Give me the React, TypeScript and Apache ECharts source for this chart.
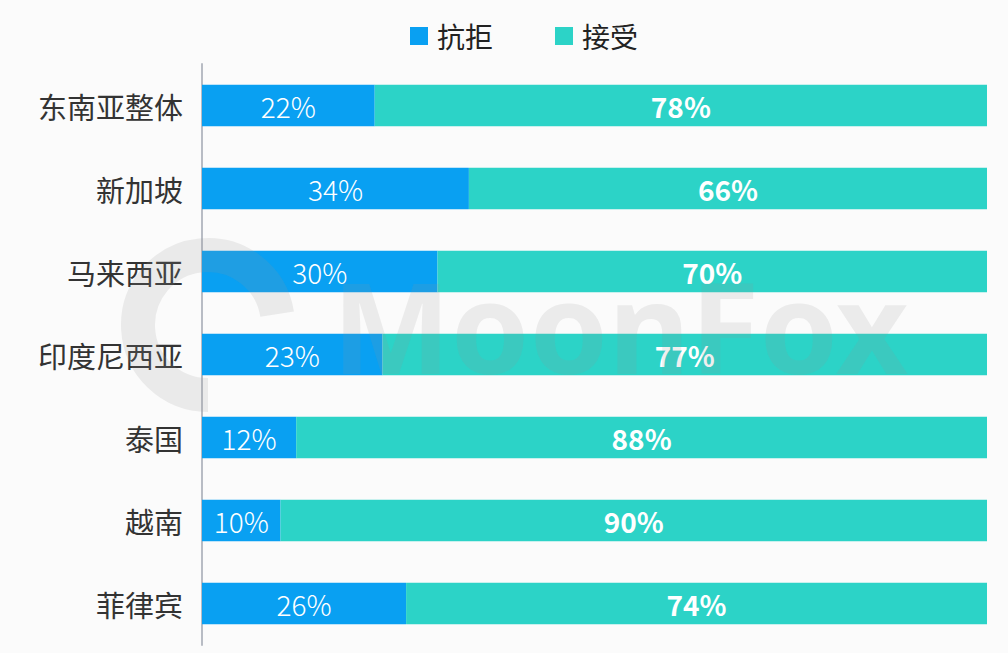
import React, { useEffect, useRef } from "react";
import * as echarts from "echarts";

const categories = ["东南亚整体", "新加坡", "马来西亚", "印度尼西亚", "泰国", "越南", "菲律宾"];
const rejectValues = [22, 34, 30, 23, 12, 10, 26];
const acceptValues = [78, 66, 70, 77, 88, 90, 74];
const seriesNames = ["抗拒", "接受"];

const FONT = "'Noto Sans CJK SC', 'Noto Sans', sans-serif";

export default function App() {
  const ref = useRef<HTMLDivElement>(null);
  useEffect(() => {
    document.body.style.margin = "0";
    const chart = echarts.init(ref.current!, null, { renderer: "svg" });
    chart.setOption({
      animation: false,
      backgroundColor: "#fbfbfb",
      textStyle: { fontFamily: FONT },
      legend: {
        top: 17,
        left: 405,
        itemWidth: 18,
        itemHeight: 18,
        itemGap: 62,
        icon: "rect",
        textStyle: { fontSize: 28, color: "#222", fontFamily: FONT, padding: [0, 0, 0, 4] },
        data: seriesNames,
      },
      grid: { left: 202, right: 21, top: 64, bottom: 8, containLabel: false },
      xAxis: {
        type: "value",
        min: 0,
        max: 100,
        show: false,
      },
      yAxis: {
        type: "category",
        inverse: true,
        data: categories,
        axisLine: { show: true, lineStyle: { color: "#b8bcc4", width: 2 } },
        axisTick: { show: false },
        axisLabel: { fontSize: 29, color: "#333", margin: 19, fontFamily: FONT },
      },
      graphic: [
        {
          type: "arc",
          z: 100,
          shape: { cx: 208, cy: 325, r: 70, startAngle: Math.PI * 0.5, endAngle: Math.PI * 1.95 },
          style: { stroke: "rgba(150,150,150,0.16)", lineWidth: 34, fill: "none" },
          silent: true,
        },
        {
          type: "text",
          z: 100,
          left: 332,
          top: 262,
          silent: true,
          style: {
            text: "MoonFox",
            font: "bold 126px 'Noto Sans', sans-serif",
            fill: "rgba(150,150,150,0.15)",
          },
        },
      ],
      series: [
        {
          name: seriesNames[0],
          type: "bar",
          stack: "total",
          barWidth: "50%",
          data: rejectValues,
          itemStyle: { color: "#09a0f2" },
          label: {
            show: true,
            position: "inside",
            formatter: "{c}%",
            color: "#fff",
            fontSize: 28,
            fontWeight: 300,
            fontFamily: FONT,
          },
        },
        {
          name: seriesNames[1],
          type: "bar",
          stack: "total",
          barWidth: "50%",
          data: acceptValues,
          itemStyle: { color: "#2cd3c7" },
          label: {
            show: true,
            position: "inside",
            formatter: "{c}%",
            color: "#fff",
            fontSize: 28,
            fontWeight: "bold",
            fontFamily: FONT,
          },
        },
      ],
    });
    return () => chart.dispose();
  }, []);
  return <div ref={ref} style={{ width: 1008, height: 653 }} />;
}
